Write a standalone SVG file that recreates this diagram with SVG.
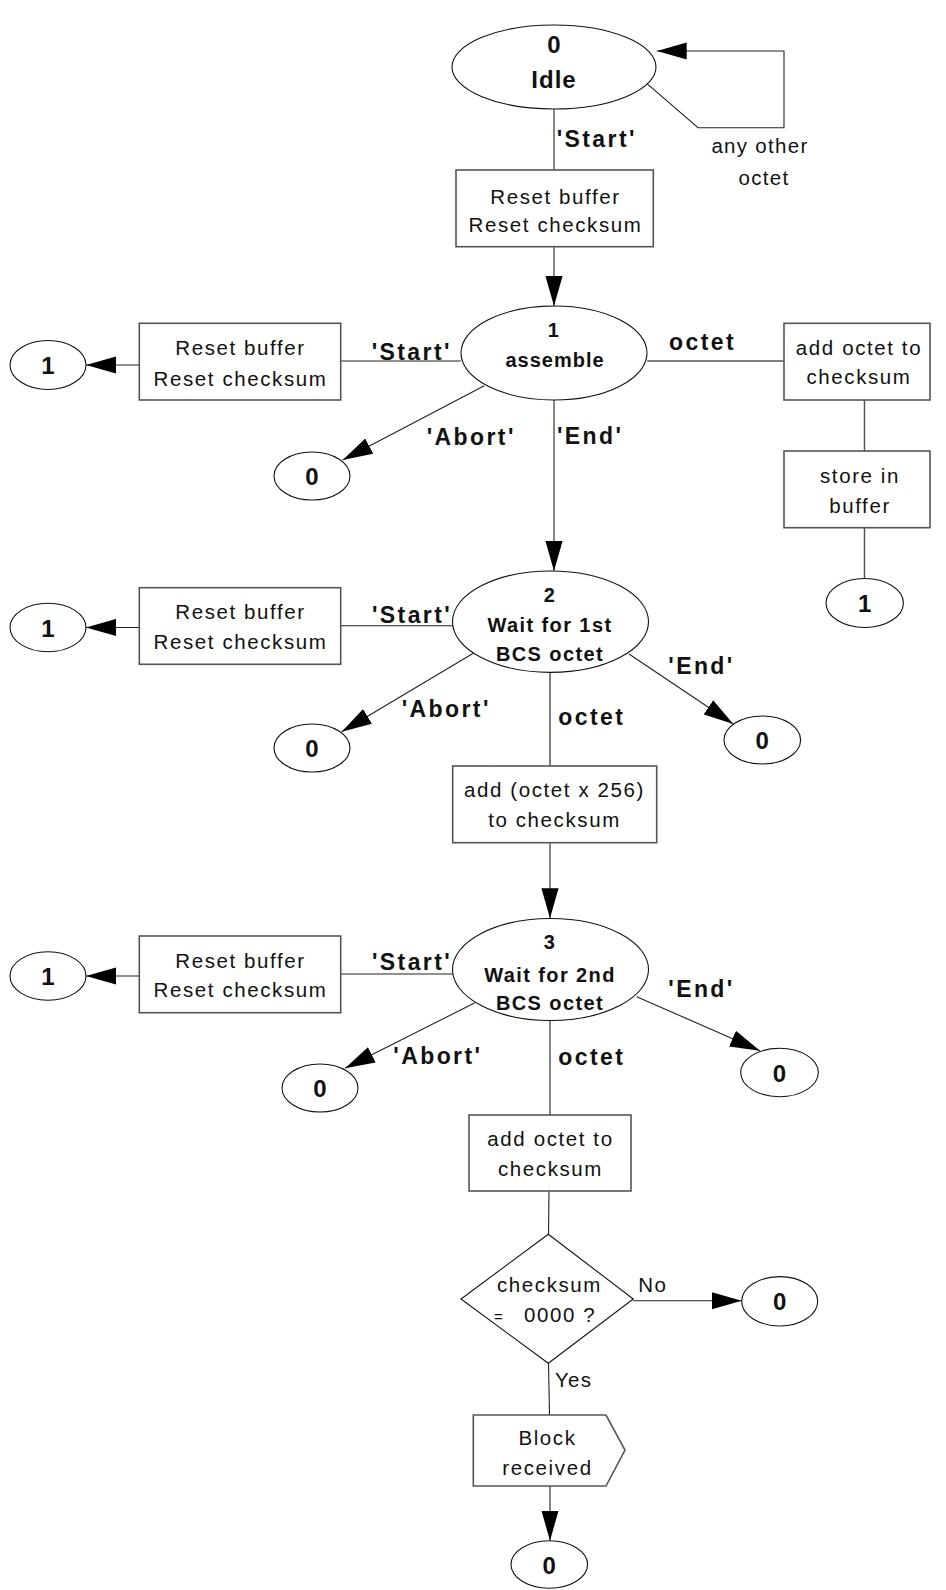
<svg xmlns="http://www.w3.org/2000/svg" width="946" height="1590" viewBox="0 0 946 1590">
<defs>
<marker id="arr" markerUnits="userSpaceOnUse" markerWidth="30" markerHeight="18" viewBox="0 0 28 16" refX="28" refY="8" orient="auto">
<path d="M0,0 L28,8 L0,16 z" fill="#000"/>
</marker>
<style>
.bg{fill:#fff}
.st{fill:#fff;stroke:#111;stroke-width:1.1}
.bx{fill:#fff;stroke:#555;stroke-width:1.6}
.ln{fill:none;stroke:#222;stroke-width:1.1}
.lg{fill:none;stroke:#555;stroke-width:1.5}
.ar{fill:none;stroke:#222;stroke-width:1.1;marker-end:url(#arr)}
.t{font-family:"Liberation Sans",Arial,sans-serif;font-size:20.5px;letter-spacing:1.6px;fill:#111;text-anchor:middle}
.ts{font-family:"Liberation Sans",Arial,sans-serif;font-size:20px;font-weight:bold;letter-spacing:1.4px;fill:#111;text-anchor:middle}
.tn{font-family:"Liberation Sans",Arial,sans-serif;font-size:24px;font-weight:bold;fill:#111;text-anchor:middle}
.lb{font-family:"Liberation Sans",Arial,sans-serif;font-size:23px;font-weight:bold;letter-spacing:2.4px;fill:#111}
.ll{font-family:"Liberation Sans",Arial,sans-serif;font-size:20.5px;letter-spacing:1.3px;fill:#111}
</style>
</defs>
<rect class="bg" x="0" y="0" width="946" height="1590"/>

<g id="connectors">
<polyline class="ar" points="646.7,83.3 698,127.7 784,127.7 784,51 656.7,51"/>
<line class="ln" x1="554" y1="109" x2="554" y2="170"/>
<line class="ar" x1="554" y1="246.7" x2="554" y2="306"/>
<line class="ln" x1="340.7" y1="361" x2="460.7" y2="361"/>
<line class="ar" x1="139.3" y1="365" x2="86" y2="365"/>
<line class="ar" x1="484.3" y1="385.7" x2="342.7" y2="460"/>
<line class="ar" x1="554" y1="400" x2="554" y2="571"/>
<line class="lg" x1="647.3" y1="361" x2="784" y2="361"/>
<line class="lg" x1="864.5" y1="400" x2="864.5" y2="451"/>
<line class="lg" x1="864.5" y1="527.7" x2="864.5" y2="578.3"/>

<line class="ln" x1="340.7" y1="625.7" x2="453" y2="625.7"/>
<line class="ar" x1="139.3" y1="627.5" x2="86" y2="627.5"/>
<line class="ar" x1="473.3" y1="653.3" x2="341.7" y2="731.7"/>
<line class="ar" x1="629" y1="654" x2="733.3" y2="724"/>
<line class="lg" x1="550" y1="672.3" x2="550" y2="766"/>
<line class="ar" x1="550" y1="842.7" x2="550" y2="918.3"/>

<line class="ln" x1="340.7" y1="974" x2="453" y2="974"/>
<line class="ar" x1="139.3" y1="976" x2="86" y2="976"/>
<line class="ar" x1="475" y1="1002.7" x2="345" y2="1068.3"/>
<line class="ar" x1="636.7" y1="996.7" x2="760" y2="1050.7"/>
<line class="ln" x1="550" y1="1020.7" x2="550" y2="1115"/>
<line class="ln" x1="549" y1="1191" x2="548.5" y2="1234.3"/>
<line class="ar" x1="633.3" y1="1300.7" x2="741.7" y2="1300.7"/>
<line class="ln" x1="548.5" y1="1363.3" x2="549.5" y2="1415"/>
<line class="ar" x1="550" y1="1486" x2="550" y2="1540.7"/>
</g>

<g id="labels">
<text class="lb" x="556.7" y="146.7">'Start'</text>
<text class="ll" x="760" y="153" text-anchor="middle">any other</text>
<text class="ll" x="764" y="185" text-anchor="middle">octet</text>
<text class="lb" x="371.7" y="360">'Start'</text>
<text class="lb" x="426.7" y="445">'Abort'</text>
<text class="lb" x="557" y="444">'End'</text>
<text class="lb" x="669" y="350">octet</text>
<text class="lb" x="372" y="623.3">'Start'</text>
<text class="lb" x="401.7" y="717.3">'Abort'</text>
<text class="lb" x="668.3" y="674">'End'</text>
<text class="lb" x="558.3" y="725">octet</text>
<text class="lb" x="372" y="970">'Start'</text>
<text class="lb" x="393.3" y="1064">'Abort'</text>
<text class="lb" x="668.3" y="996.7">'End'</text>
<text class="lb" x="558.3" y="1065">octet</text>
<text class="ll" x="638.3" y="1291.7">No</text>
<text class="ll" x="555" y="1386.7">Yes</text>
</g>

<g id="s0">
<ellipse class="st" cx="554" cy="67" rx="102" ry="42"/>
<text class="tn" x="554" y="53">0</text>
<text class="tn" x="554" y="88" style="letter-spacing:1px">Idle</text>
</g>
<g id="boxA">
<rect class="bx" x="456" y="170" width="197.3" height="76.7"/>
<text class="t" x="555.5" y="204">Reset buffer</text>
<text class="t" x="555.5" y="231.7">Reset checksum</text>
</g>

<g id="s1">
<ellipse class="st" cx="554" cy="353" rx="93" ry="47"/>
<text class="ts" x="554" y="336.7">1</text>
<text class="ts" x="555" y="366.7" style="letter-spacing:1px">assemble</text>
</g>
<g id="b1">
<rect class="bx" x="139.3" y="323.3" width="201.4" height="76.7"/>
<text class="t" x="240.5" y="355">Reset buffer</text>
<text class="t" x="240.5" y="386">Reset checksum</text>
</g>
<g id="c1a">
<ellipse class="st" cx="48" cy="365" rx="38" ry="24.5"/>
<text class="tn" x="48" y="374">1</text>
</g>
<g id="c1b">
<ellipse class="st" cx="312" cy="476" rx="38" ry="24"/>
<text class="tn" x="312" y="485">0</text>
</g>
<g id="r1">
<rect class="bx" x="784" y="323.3" width="146" height="76.7"/>
<text class="t" x="859" y="355">add octet to</text>
<text class="t" x="859" y="384.3">checksum</text>
</g>
<g id="r2">
<rect class="bx" x="784" y="451" width="146" height="76.7"/>
<text class="t" x="860" y="483.3">store in</text>
<text class="t" x="860" y="512.7">buffer</text>
</g>
<g id="c1c">
<ellipse class="st" cx="864.7" cy="603" rx="38.7" ry="24.5"/>
<text class="tn" x="864.7" y="612">1</text>
</g>

<g id="s2">
<ellipse class="st" cx="550.5" cy="621.7" rx="98" ry="50.7"/>
<text class="ts" x="550" y="601.7">2</text>
<text class="ts" x="550" y="631.7">Wait for 1st</text>
<text class="ts" x="550" y="660.7">BCS octet</text>
</g>
<g id="b2">
<rect class="bx" x="139.3" y="587.7" width="201.4" height="76.6"/>
<text class="t" x="240.5" y="619.3">Reset buffer</text>
<text class="t" x="240.5" y="649.3">Reset checksum</text>
</g>
<g id="c2a">
<ellipse class="st" cx="48" cy="627.5" rx="38" ry="24.2"/>
<text class="tn" x="48" y="636.5">1</text>
</g>
<g id="c2b">
<ellipse class="st" cx="312" cy="748" rx="38" ry="24"/>
<text class="tn" x="312" y="757">0</text>
</g>
<g id="c2c">
<ellipse class="st" cx="762.3" cy="740" rx="38.3" ry="24"/>
<text class="tn" x="762.3" y="749">0</text>
</g>
<g id="m2">
<rect class="bx" x="452.7" y="766" width="204" height="76.7"/>
<text class="t" x="554.5" y="797.3">add (octet x 256)</text>
<text class="t" x="554.5" y="826.7">to checksum</text>
</g>

<g id="s3">
<ellipse class="st" cx="550.5" cy="969.5" rx="98" ry="51"/>
<text class="ts" x="550" y="949">3</text>
<text class="ts" x="550" y="981.7">Wait for 2nd</text>
<text class="ts" x="550" y="1010">BCS octet</text>
</g>
<g id="b3">
<rect class="bx" x="139.3" y="936" width="201.4" height="76.7"/>
<text class="t" x="240.5" y="967.7">Reset buffer</text>
<text class="t" x="240.5" y="996.7">Reset checksum</text>
</g>
<g id="c3a">
<ellipse class="st" cx="48" cy="976" rx="38" ry="24.2"/>
<text class="tn" x="48" y="985">1</text>
</g>
<g id="c3b">
<ellipse class="st" cx="320" cy="1088" rx="38" ry="24"/>
<text class="tn" x="320" y="1097">0</text>
</g>
<g id="c3c">
<ellipse class="st" cx="779.5" cy="1072.5" rx="38.8" ry="24.2"/>
<text class="tn" x="779.5" y="1081.5">0</text>
</g>
<g id="m3">
<rect class="bx" x="469" y="1115" width="162" height="76"/>
<text class="t" x="550.5" y="1145.7">add octet to</text>
<text class="t" x="550.5" y="1176">checksum</text>
</g>
<g id="dec">
<polygon class="st" points="548.3,1234.3 633.3,1299 548.3,1363.3 461,1299"/>
<text class="t" x="549.5" y="1291.7">checksum</text>
<text class="t" y="1321.7" style="text-anchor:start"><tspan x="494" style="font-size:15px">=</tspan><tspan x="524">0000 ?</tspan></text>
</g>
<g id="c4">
<ellipse class="st" cx="779.7" cy="1301.3" rx="38" ry="24.7"/>
<text class="tn" x="779.7" y="1310.3">0</text>
</g>
<g id="out">
<polygon class="bx" points="473.3,1415 606,1415 625,1450 606,1486 473.3,1486"/>
<text class="t" x="547.5" y="1445">Block</text>
<text class="t" x="547.5" y="1475">received</text>
</g>
<g id="c5">
<ellipse class="st" cx="549.3" cy="1564.5" rx="38.3" ry="23.8"/>
<text class="tn" x="549.3" y="1573.5">0</text>
</g>
</svg>
